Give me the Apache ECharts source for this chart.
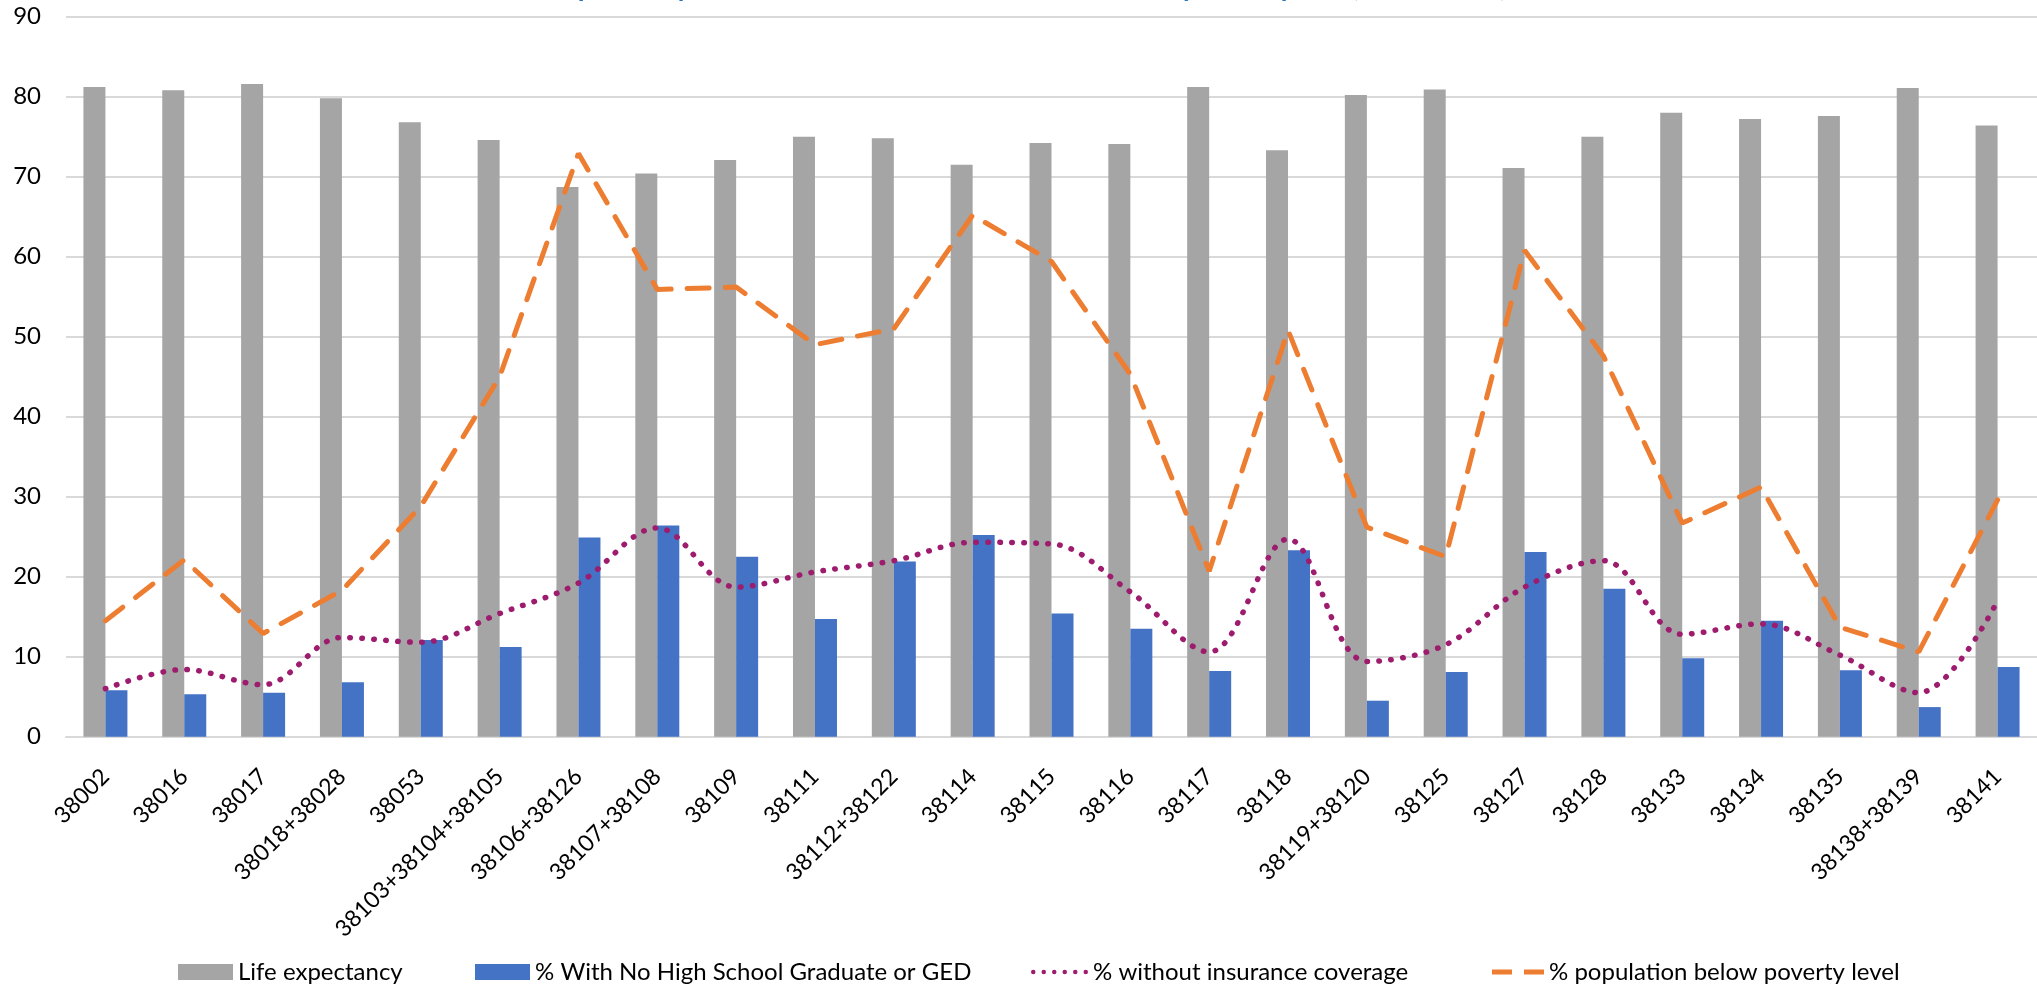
<!DOCTYPE html>
<html>
<head>
<meta charset="utf-8">
<script src="https://cdn.jsdelivr.net/npm/echarts@6/dist/echarts.min.js"></script>
<style>
  html, body { margin: 0; padding: 0; background: #ffffff; }
  #chart { width: 2037px; height: 987px; }
</style>
</head>
<body>
<div id="chart"></div>
<script>
const titleText = 'Life Expectancy, Social Determinants of Health in Shelby County, TN (2005-2009)';
const categories = ['38002', '38016', '38017', '38018+38028', '38053', '38103+38104+38105', '38106+38126', '38107+38108', '38109', '38111', '38112+38122', '38114', '38115', '38116', '38117', '38118', '38119+38120', '38125', '38127', '38128', '38133', '38134', '38135', '38138+38139', '38141'];
const lifeExpectancy = [81.2, 80.8, 81.6, 79.8, 76.8, 74.6, 68.7, 70.4, 72.1, 75.0, 74.8, 71.5, 74.2, 74.1, 81.2, 73.3, 80.2, 80.9, 71.1, 75.0, 78.0, 77.2, 77.6, 81.1, 76.4];
const noHighSchool = [5.8, 5.3, 5.5, 6.8, 12.1, 11.2, 24.9, 26.4, 22.5, 14.7, 21.9, 25.2, 15.4, 13.5, 8.2, 23.3, 4.5, 8.1, 23.1, 18.5, 9.8, 14.5, 8.3, 3.7, 8.7];
const noInsurance = [6.0, 8.4, 6.5, 12.4, 11.8, 15.4, 19.2, 26.1, 18.7, 20.6, 22.0, 24.3, 24.1, 18.1, 10.6, 24.7, 9.4, 11.5, 18.7, 22.0, 12.8, 14.1, 10.2, 5.5, 17.0];
const belowPoverty = [14.5, 22.1, 12.9, 18.3, 28.8, 45.0, 72.9, 55.9, 56.2, 49.0, 51.0, 65.2, 59.4, 45.3, 20.7, 50.8, 26.2, 22.5, 60.8, 47.6, 26.7, 31.2, 13.7, 10.6, 29.6];
const yTicks = { min: 0, max: 90, interval: 10 };
const seriesNames = ['Life expectancy', '% With No High School Graduate or GED', '% without insurance coverage', '% population below poverty level'];

const FONT = 'Lato, "Open Sans", sans-serif';
const chart = echarts.init(document.getElementById('chart'), null, { renderer: 'canvas' });

// legend icons
function dotsPath(n, r, step) {
  let p = 'path://';
  for (let i = 0; i < n; i++) {
    const cx = r + i * step;
    p += 'M' + (cx - r) + ',' + r + 'a' + r + ',' + r + ' 0 1,0 ' + (2 * r) + ',0a' + r + ',' + r + ' 0 1,0 ' + (-2 * r) + ',0Z';
  }
  return p;
}
const legendIcons = [
  { icon: 'rect', w: 55, h: 16 },
  { icon: 'rect', w: 55, h: 16 },
  { icon: dotsPath(6, 2.25, 10.5), w: 57, h: 4.5 },
  { icon: 'path://M0,0H20V5H0ZM32,0H52V5H32Z', w: 52, h: 5 }
];
const legendLefts = [173, 470, 1026, 1487];
const legends = seriesNames.map((n, i) => ({
  data: [{ name: n, icon: legendIcons[i].icon }],
  left: legendLefts[i],
  top: 953,
  itemWidth: legendIcons[i].w,
  itemHeight: legendIcons[i].h,
  itemGap: 0,
  textStyle: { fontFamily: FONT, fontSize: 24, color: '#000000', lineHeight: 28 },
  selectedMode: false
}));

chart.setOption({
  animation: false,
  backgroundColor: '#ffffff',
  graphic: [{
    type: 'text',
    left: 494,
    top: -27,
    style: {
      text: titleText,
      fontFamily: FONT,
      fontSize: 28,
      fontWeight: 'bold',
      fill: '#2E75B6'
    }
  }],
  legend: legends,
  grid: { left: 66, right: -10, top: 16.7, bottom: 250.3, containLabel: false },
  xAxis: {
    type: 'category',
    data: categories,
    axisLine: { show: true, lineStyle: { color: '#D9D9D9', width: 2 } },
    axisTick: { show: false },
    axisLabel: {
      interval: 0,
      rotate: 45,
      margin: 36,
      fontFamily: FONT,
      fontSize: 23,
      color: '#000000'
    }
  },
  yAxis: {
    type: 'value',
    min: yTicks.min,
    max: yTicks.max,
    interval: yTicks.interval,
    axisLine: { show: false },
    axisTick: { show: false },
    splitLine: { lineStyle: { color: '#D9D9D9', width: 2 } },
    axisLabel: { fontFamily: FONT, fontSize: 24, color: '#000000', margin: 25 }
  },
  series: [
    {
      name: seriesNames[0], type: 'bar', data: lifeExpectancy,
      barWidth: 22, barGap: '0%',
      itemStyle: { color: '#A5A5A5' }
    },
    {
      name: seriesNames[1], type: 'bar', data: noHighSchool,
      barWidth: 22, barGap: '0%',
      itemStyle: { color: '#4472C4' }
    },
    {
      name: seriesNames[2], type: 'line', data: noInsurance,
      smooth: 0.35, symbol: 'none', z: 5,
      itemStyle: { color: '#9E1C6E' },
      lineStyle: { color: '#9E1C6E', width: 5.5, type: [0.5, 11.5], cap: 'round' }
    },
    {
      name: seriesNames[3], type: 'line', data: belowPoverty,
      symbol: 'none', z: 6,
      itemStyle: { color: '#ED7D31' },
      lineStyle: { color: '#ED7D31', width: 5, type: [22, 16], cap: 'round' }
    }
  ]
});
</script>
</body>
</html>
